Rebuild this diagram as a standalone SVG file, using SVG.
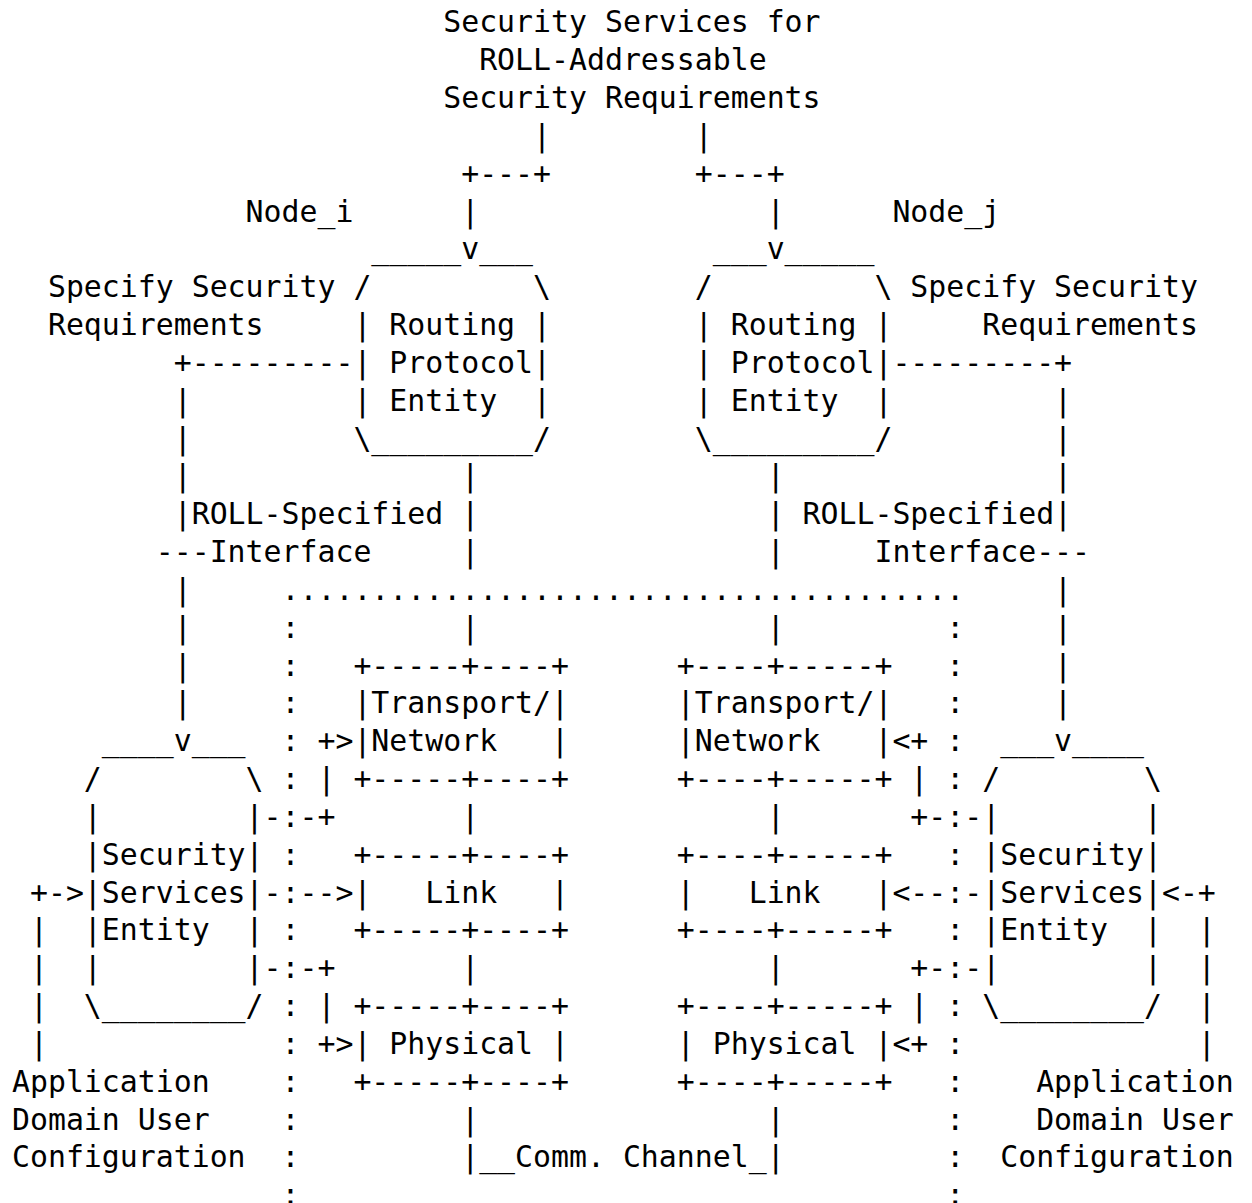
<svg xmlns="http://www.w3.org/2000/svg" width="1252" height="1203" viewBox="0 0 1252 1203">
<style>
text{font-family:"DejaVu Sans Mono","Liberation Mono",monospace;font-size:29.85px;fill:#000;white-space:pre}
</style>
<rect width="1252" height="1203" fill="#fff"/>
<g id="ascii-art" xml:space="preserve">
<text x="12" y="32.3">                        Security Services for</text>
<text x="12" y="70.1">                          ROLL-Addressable</text>
<text x="12" y="108.0">                        Security Requirements</text>
<text x="12" y="145.8">                             |        |</text>
<text x="12" y="183.6">                         +---+        +---+</text>
<text x="12" y="221.5">             Node_i      |                |      Node_j</text>
<text x="12" y="259.3">                    _____v___          ___v_____</text>
<text x="12" y="297.1">  Specify Security /         \        /         \ Specify Security</text>
<text x="12" y="335.0">  Requirements     | Routing |        | Routing |     Requirements</text>
<text x="12" y="372.8">         +---------| Protocol|        | Protocol|---------+</text>
<text x="12" y="410.6">         |         | Entity  |        | Entity  |         |</text>
<text x="12" y="448.5">         |         \_________/        \_________/         |</text>
<text x="12" y="486.3">         |               |                |               |</text>
<text x="12" y="524.1">         |ROLL-Specified |                | ROLL-Specified|</text>
<text x="12" y="562.0">        ---Interface     |                |     Interface---</text>
<text x="12" y="599.8">         |     ......................................     |</text>
<text x="12" y="637.6">         |     :         |                |         :     |</text>
<text x="12" y="675.5">         |     :   +-----+----+      +----+-----+   :     |</text>
<text x="12" y="713.3">         |     :   |Transport/|      |Transport/|   :     |</text>
<text x="12" y="751.1">     ____v___  : +&gt;|Network   |      |Network   |&lt;+ :  ___v____</text>
<text x="12" y="789.0">    /        \ : | +-----+----+      +----+-----+ | : /        \</text>
<text x="12" y="826.8">    |        |-:-+       |                |       +-:-|        |</text>
<text x="12" y="864.6">    |Security| :   +-----+----+      +----+-----+   : |Security|</text>
<text x="12" y="902.5"> +-&gt;|Services|-:--&gt;|   Link   |      |   Link   |&lt;--:-|Services|&lt;-+</text>
<text x="12" y="940.3"> |  |Entity  | :   +-----+----+      +----+-----+   : |Entity  |  |</text>
<text x="12" y="978.1"> |  |        |-:-+       |                |       +-:-|        |  |</text>
<text x="12" y="1016.0"> |  \________/ : | +-----+----+      +----+-----+ | : \________/  |</text>
<text x="12" y="1053.8"> |             : +&gt;| Physical |      | Physical |&lt;+ :             |</text>
<text x="12" y="1091.6">Application    :   +-----+----+      +----+-----+   :    Application</text>
<text x="12" y="1129.5">Domain User    :         |                |         :    Domain User</text>
<text x="12" y="1167.3">Configuration  :         |__Comm. Channel_|         :  Configuration</text>
<text x="12" y="1205.1">               :                                    :</text>
</g>
</svg>
